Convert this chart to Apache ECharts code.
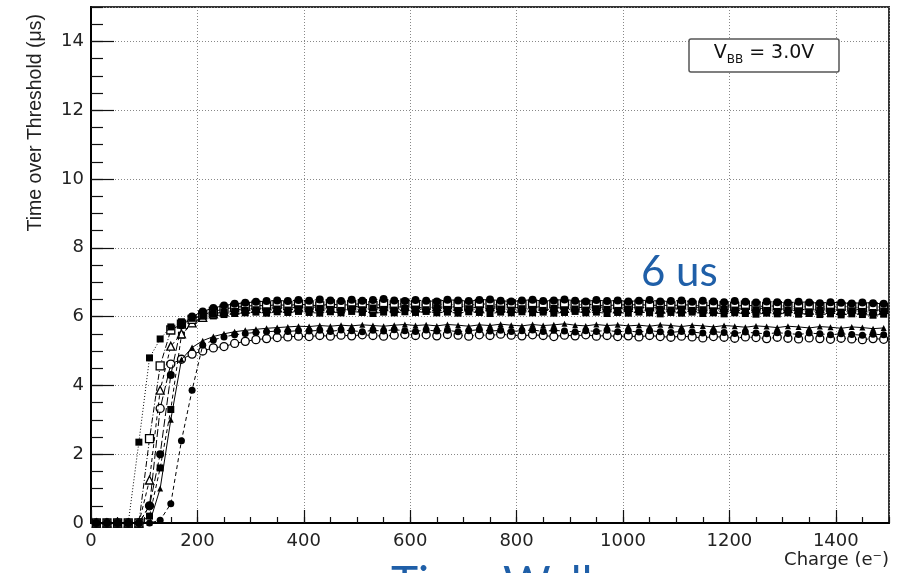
<!DOCTYPE html>
<html>
<head>
<meta charset="utf-8">
<title>Time over Threshold vs Charge</title>
<script src="https://cdn.jsdelivr.net/npm/echarts@6/dist/echarts.min.js"></script>
<style>
  html, body { margin: 0; padding: 0; background: #fff; }
  #chart { width: 902px; height: 573px; }
</style>
</head>
<body>
<div id="chart"></div>
<script>
// Injected charge (electrons), one sample every 20 e-
const charge = [
  10, 30, 50, 70, 90, 110, 130, 150, 170, 190,
  210, 230, 250, 270, 290, 310, 330, 350, 370, 390,
  410, 430, 450, 470, 490, 510, 530, 550, 570, 590,
  610, 630, 650, 670, 690, 710, 730, 750, 770, 790,
  810, 830, 850, 870, 890, 910, 930, 950, 970, 990,
  1010, 1030, 1050, 1070, 1090, 1110, 1130, 1150, 1170, 1190,
  1210, 1230, 1250, 1270, 1290, 1310, 1330, 1350, 1370, 1390,
  1410, 1430, 1450, 1470, 1490
];

// Time over threshold (us) per pixel, VBB = 3.0 V
const totPixA = [ // filled squares, dotted
  0, 0, 0, 0, 2.35, 4.80, 5.35, 5.70, 5.85, 5.95,
  6.02, 6.08, 6.12, 6.15, 6.18, 6.20, 6.17, 6.22, 6.19, 6.23,
  6.20, 6.24, 6.21, 6.18, 6.23, 6.20, 6.25, 6.21, 6.19, 6.24,
  6.22, 6.20, 6.25, 6.21, 6.18, 6.23, 6.20, 6.24, 6.22, 6.19,
  6.23, 6.21, 6.18, 6.24, 6.20, 6.22, 6.19, 6.23, 6.21, 6.18,
  6.22, 6.20, 6.17, 6.21, 6.19, 6.22, 6.18, 6.20, 6.17, 6.21,
  6.19, 6.16, 6.20, 6.18, 6.15, 6.19, 6.17, 6.14, 6.18, 6.16,
  6.13, 6.17, 6.15, 6.12, 6.16
];
const totPixB = [ // open squares, dash-dot
  0, 0, 0, 0, 0, 2.45, 4.57, 5.61, 5.78, 5.92,
  6.05, 6.15, 6.22, 6.27, 6.30, 6.33, 6.31, 6.35, 6.32, 6.36,
  6.34, 6.31, 6.37, 6.33, 6.35, 6.38, 6.32, 6.36, 6.34, 6.39,
  6.35, 6.33, 6.37, 6.34, 6.36, 6.32, 6.38, 6.35, 6.33, 6.37,
  6.34, 6.36, 6.32, 6.37, 6.35, 6.33, 6.36, 6.34, 6.31, 6.35,
  6.33, 6.36, 6.32, 6.34, 6.31, 6.35, 6.33, 6.30, 6.34, 6.32,
  6.30, 6.33, 6.31, 6.29, 6.32, 6.30, 6.28, 6.31, 6.29, 6.27,
  6.30, 6.28, 6.26, 6.29, 6.27
];
const totPixC = [ // open triangles, dashed
  0, 0, 0, 0, 0, 1.25, 3.86, 5.14, 5.50, 5.82,
  5.98, 6.08, 6.14, 6.19, 6.22, 6.25, 6.23, 6.27, 6.24, 6.28,
  6.26, 6.29, 6.25, 6.28, 6.31, 6.27, 6.24, 6.29, 6.26, 6.30,
  6.27, 6.25, 6.29, 6.26, 6.30, 6.28, 6.25, 6.29, 6.27, 6.24,
  6.28, 6.26, 6.30, 6.27, 6.24, 6.28, 6.25, 6.29, 6.26, 6.23,
  6.27, 6.25, 6.28, 6.24, 6.26, 6.23, 6.27, 6.25, 6.22, 6.26,
  6.24, 6.21, 6.25, 6.23, 6.20, 6.24, 6.22, 6.19, 6.23, 6.21,
  6.18, 6.22, 6.20, 6.17, 6.21
];
const totPixD = [ // filled circles, long dash
  0, 0, 0, 0, 0, 0.50, 2.00, 4.30, 5.75, 6.00,
  6.15, 6.25, 6.32, 6.37, 6.40, 6.43, 6.45, 6.47, 6.45, 6.48,
  6.46, 6.50, 6.47, 6.45, 6.49, 6.46, 6.48, 6.51, 6.47, 6.45,
  6.48, 6.46, 6.44, 6.49, 6.47, 6.45, 6.48, 6.50, 6.46, 6.44,
  6.47, 6.49, 6.45, 6.47, 6.50, 6.46, 6.44, 6.48, 6.45, 6.47,
  6.44, 6.46, 6.48, 6.44, 6.45, 6.47, 6.43, 6.46, 6.44, 6.42,
  6.45, 6.43, 6.41, 6.44, 6.42, 6.40, 6.43, 6.41, 6.39, 6.42,
  6.40, 6.38, 6.41, 6.39, 6.37
];
const totPixE = [ // filled squares, dashed
  0, 0, 0, 0, 0, 0.20, 1.60, 3.30, 5.46, 5.80,
  5.95, 6.02, 6.06, 6.09, 6.11, 6.13, 6.10, 6.14, 6.12, 6.15,
  6.12, 6.10, 6.14, 6.11, 6.15, 6.12, 6.09, 6.13, 6.11, 6.14,
  6.12, 6.15, 6.11, 6.13, 6.10, 6.14, 6.12, 6.09, 6.13, 6.11,
  6.14, 6.11, 6.13, 6.10, 6.12, 6.15, 6.11, 6.13, 6.09, 6.12,
  6.10, 6.13, 6.11, 6.08, 6.12, 6.10, 6.13, 6.09, 6.11, 6.08,
  6.11, 6.09, 6.07, 6.10, 6.08, 6.11, 6.07, 6.09, 6.06, 6.08,
  6.05, 6.08, 6.06, 6.04, 6.07
];
const totPixF = [ // small filled triangles, solid
  0, 0, 0, 0, 0, 0, 1.00, 3.00, 4.75, 5.10,
  5.30, 5.42, 5.50, 5.56, 5.60, 5.63, 5.66, 5.68, 5.70, 5.72,
  5.71, 5.74, 5.72, 5.75, 5.73, 5.76, 5.74, 5.72, 5.75, 5.77,
  5.74, 5.76, 5.73, 5.77, 5.75, 5.72, 5.76, 5.74, 5.78, 5.75,
  5.73, 5.77, 5.74, 5.76, 5.79, 5.75, 5.73, 5.77, 5.74, 5.76,
  5.73, 5.75, 5.72, 5.76, 5.74, 5.71, 5.75, 5.73, 5.70, 5.74,
  5.72, 5.69, 5.73, 5.71, 5.68, 5.72, 5.70, 5.67, 5.71, 5.69,
  5.66, 5.70, 5.68, 5.65, 5.67
];
const totPixG = [ // open circles, long dash
  0, 0, 0, 0, 0, 0.50, 3.33, 4.62, 4.76, 4.91,
  5.00, 5.09, 5.13, 5.22, 5.28, 5.33, 5.36, 5.39, 5.41, 5.43,
  5.42, 5.45, 5.43, 5.46, 5.44, 5.47, 5.45, 5.43, 5.46, 5.48,
  5.45, 5.47, 5.44, 5.48, 5.46, 5.43, 5.47, 5.45, 5.49, 5.46,
  5.44, 5.47, 5.45, 5.42, 5.46, 5.44, 5.47, 5.43, 5.45, 5.42,
  5.44, 5.41, 5.45, 5.42, 5.40, 5.43, 5.41, 5.38, 5.42, 5.40,
  5.37, 5.41, 5.39, 5.36, 5.40, 5.37, 5.35, 5.38, 5.36, 5.34,
  5.37, 5.35, 5.33, 5.36, 5.34
];
const totPixH = [ // filled circles, dashed (latest turn-on)
  0, 0, 0, 0, 0, 0, 0.08, 0.56, 2.39, 3.86,
  5.17, 5.32, 5.41, 5.47, 5.51, 5.54, 5.56, 5.58, 5.57, 5.59,
  5.58, 5.60, 5.57, 5.61, 5.59, 5.56, 5.60, 5.58, 5.62, 5.59,
  5.57, 5.61, 5.58, 5.60, 5.56, 5.59, 5.62, 5.58, 5.60, 5.57,
  5.59, 5.61, 5.57, 5.60, 5.58, 5.55, 5.59, 5.57, 5.60, 5.56,
  5.58, 5.55, 5.59, 5.56, 5.54, 5.57, 5.55, 5.52, 5.56, 5.54,
  5.51, 5.55, 5.52, 5.50, 5.53, 5.51, 5.48, 5.52, 5.50, 5.47,
  5.50, 5.48, 5.46, 5.49, 5.47
];

// Axis tick labels
const xTickLabels = [0, 200, 400, 600, 800, 1000, 1200, 1400];
const yTickLabels = [0, 2, 4, 6, 8, 10, 12, 14];

// Marker / line style for each curve (drawn in this order)
const curves = [
  { vals: totPixG, symbol: 'circle',   size: 8, filled: false, dash: [8, 3] },
  { vals: totPixH, symbol: 'circle',   size: 7, filled: true,  dash: [4, 3] },
  { vals: totPixF, symbol: 'triangle', size: 6, filled: true,  dash: 'solid' },
  { vals: totPixE, symbol: 'rect',     size: 7, filled: true,  dash: [4, 3] },
  { vals: totPixC, symbol: 'triangle', size: 8, filled: false, dash: [4, 3] },
  { vals: totPixB, symbol: 'rect',     size: 8, filled: false, dash: [6, 2, 1, 2] },
  { vals: totPixD, symbol: 'circle',   size: 8, filled: true,  dash: [8, 3] },
  { vals: totPixA, symbol: 'rect',     size: 7, filled: true,  dash: [1, 2] }
];

const tickFont = '"DejaVu Sans", sans-serif';
const titleFont = '"Liberation Sans", Arial, sans-serif';
const blue = '#1f5fa8';

const series = curves.map((c, k) => ({
  type: 'line',
  data: charge.map((q, i) => [q, c.vals[i]]),
  symbol: c.symbol,
  symbolSize: c.size,
  showSymbol: true,
  showAllSymbol: true,
  clip: false,
  z: 3 + k,
  animation: false,
  silent: true,
  lineStyle: { color: '#000', width: 1, type: c.dash },
  itemStyle: {
    color: c.filled ? '#000' : '#fff',
    borderColor: '#000',
    borderWidth: c.filled ? 0 : 1.3
  }
}));

// text measuring for the V_BB label
const mctx = document.createElement('canvas').getContext('2d');
function textWidth(t, font) { mctx.font = font; return mctx.measureText(t).width; }

const legFontMain = '19px "DejaVu Sans"';
const legFontSub = '12px "DejaVu Sans"';
const legCx = 764, legCy = 53;
const wV = textWidth('V', legFontMain);
const wBB = textWidth('BB', legFontSub);
const wRest = textWidth(' = 3.0V', legFontMain);
const legX0 = legCx - (wV + wBB + wRest) / 2;

const chart = echarts.init(document.getElementById('chart'), null, { renderer: 'canvas' });

chart.setOption({
  backgroundColor: '#fff',
  animation: false,
  grid: {
    left: 91, right: 13, top: 7, bottom: 50,
    show: true, borderColor: '#333', borderWidth: 2, backgroundColor: '#fff'
  },
  xAxis: [
    {
      type: 'value', min: 0, max: 1500, interval: 200, position: 'bottom',
      axisLine: { show: true, onZero: false, lineStyle: { color: '#000', width: 2 } },
      axisTick: { show: true, inside: true, length: 13, lineStyle: { color: '#111', width: 1.2 } },
      axisLabel: {
        show: true, margin: 9, fontSize: 18, fontFamily: tickFont, color: '#222',
        showMaxLabel: false,
        formatter: v => (xTickLabels.includes(v) ? String(v) : '')
      },
      splitLine: { show: true, lineStyle: { color: '#888', width: 1, type: [1, 2] } }
    },
    {
      type: 'value', min: 0, max: 1500, interval: 50, position: 'bottom',
      axisLine: { show: false },
      axisTick: { show: true, inside: true, length: 6, lineStyle: { color: '#111', width: 1.2 } },
      axisLabel: { show: false },
      splitLine: { show: false }
    }
  ],
  yAxis: [
    {
      type: 'value', min: 0, max: 15, interval: 2, position: 'left',
      axisLine: { show: true, onZero: false, lineStyle: { color: '#000', width: 2 } },
      axisTick: { show: true, inside: true, length: 23, lineStyle: { color: '#111', width: 1.2 } },
      axisLabel: {
        show: true, margin: 7, fontSize: 18, fontFamily: tickFont, color: '#222',
        showMaxLabel: false,
        formatter: v => (yTickLabels.includes(v) ? String(v) : '')
      },
      splitLine: { show: true, lineStyle: { color: '#888', width: 1, type: [1, 2] } }
    },
    {
      type: 'value', min: 0, max: 15, interval: 0.5, position: 'left',
      axisLine: { show: false },
      axisTick: { show: true, inside: true, length: 12, lineStyle: { color: '#111', width: 1.2 } },
      axisLabel: { show: false },
      splitLine: { show: false }
    }
  ],
  series: series,
  graphic: [
    {
      type: 'text', x: 36, y: 14, rotation: Math.PI / 2, z: 20,
      style: {
        text: 'Time over Threshold (μs)', font: '19.5px ' + titleFont, fill: '#222',
        textAlign: 'right', textVerticalAlign: 'middle'
      }
    },
    {
      type: 'text', x: 889, y: 560, z: 20,
      style: {
        text: 'Charge (e⁻)', font: '18px ' + tickFont, fill: '#222',
        textAlign: 'right', textVerticalAlign: 'middle'
      }
    },
    {
      type: 'rect', z: 20,
      shape: { x: 689, y: 39, width: 150, height: 33, r: 2 },
      style: { fill: '#fff', stroke: '#555', lineWidth: 1.5 }
    },
    {
      type: 'text', x: legX0, y: legCy, z: 21,
      style: { text: 'V', font: legFontMain, fill: '#111', textAlign: 'left', textVerticalAlign: 'middle' }
    },
    {
      type: 'text', x: legX0 + wV, y: legCy + 7, z: 21,
      style: { text: 'BB', font: legFontSub, fill: '#111', textAlign: 'left', textVerticalAlign: 'middle' }
    },
    {
      type: 'text', x: legX0 + wV + wBB, y: legCy, z: 21,
      style: { text: ' = 3.0V', font: legFontMain, fill: '#111', textAlign: 'left', textVerticalAlign: 'middle' }
    },
    {
      type: 'text', x: 641, y: 272, z: 20,
      style: { text: '6 us', font: '42px Lato, "Open Sans", sans-serif', fill: blue, textAlign: 'left', textVerticalAlign: 'middle' }
    },
    {
      type: 'text', x: 391, y: 584, z: 20,
      style: { text: 'Time Walk', font: '46px Lato, "Open Sans", sans-serif', fill: blue, textAlign: 'left', textVerticalAlign: 'middle' }
    }
  ]
});
</script>
</body>
</html>
